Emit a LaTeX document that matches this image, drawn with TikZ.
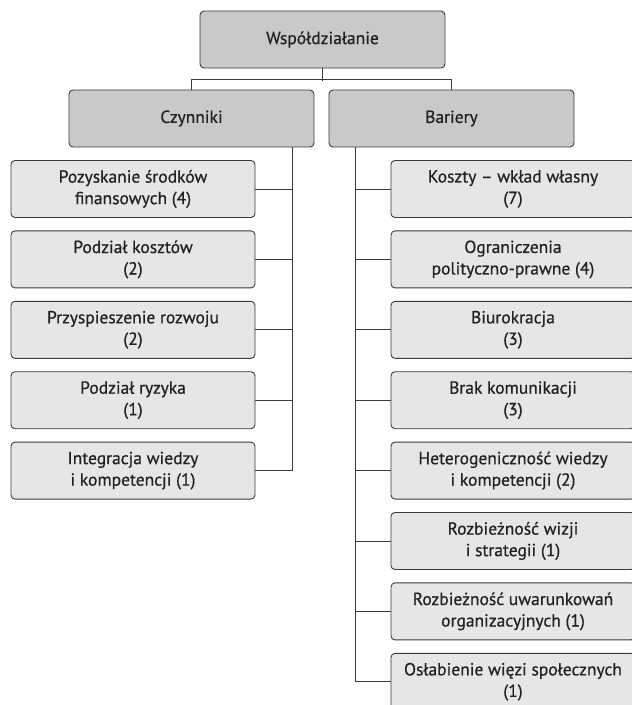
\documentclass[tikz,border=0pt]{standalone}
\usepackage{fontspec}
\setmainfont{PT Sans}[FakeBold=0.6]
\definecolor{headfill}{HTML}{C9C9CB}
\definecolor{itemfill}{HTML}{E6E6E8}
\definecolor{edge}{HTML}{3A3A3A}
\definecolor{txt}{HTML}{222222}
\begin{document}
\begin{tikzpicture}[x=1pt,y=-1pt,
  box/.style={draw=edge, line width=0.9pt, rounded corners=4pt, minimum width=245pt,
    minimum height=57pt, align=center, font=\fontsize{17.5}{21.5}\selectfont,
    text=txt, inner sep=0pt},
  head/.style={box, fill=headfill},
  item/.style={box, fill=itemfill, minimum width=244pt},
  conn/.style={draw=edge, line width=0.9pt}]
\useasboundingbox (0,0) rectangle (632,705);
\clip (0,0) rectangle (632,705);
\node[head] (top) at (322.5,39.5) {Współdziałanie};
\node[head] (cz) at (191.5,118.5) {Czynniki};
\node[head] (ba) at (451.5,118.5) {Bariery};
\draw[conn] (top.south) -- ++(0,12.5);
\draw[conn] (cz.north) -- ++(0,-10) -| (ba.north);
% left items
\node[item] (l1) at (133,189) {Pozyskanie środków\\finansowych (4)};
\node[item] (l2) at (133,259.4) {Podział kosztów\\(2)};
\node[item] (l3) at (133,329.8) {Przyspieszenie rozwoju\\(2)};
\node[item] (l4) at (133,400.2) {Podział ryzyka\\(1)};
\node[item] (l5) at (133,470.6) {Integracja wiedzy\\i kompetencji (1)};
% right items
\node[item] (r1) at (513,189) {Koszty – wkład własny\\(7)};
\node[item] (r2) at (513,259.4) {Ograniczenia\\polityczno-prawne (4)};
\node[item] (r3) at (513,329.8) {Biurokracja\\(3)};
\node[item] (r4) at (513,400.2) {Brak komunikacji\\(3)};
\node[item] (r5) at (513,470.6) {Heterogeniczność wiedzy\\i kompetencji (2)};
\node[item] (r6) at (513,541) {Rozbieżność wizji\\i strategii (1)};
\node[item] (r7) at (513,611.4) {Rozbieżność uwarunkowań\\organizacyjnych (1)};
\node[item] (r8) at (513,681.8) {Osłabienie więzi społecznych\\(1)};
% trunks
\coordinate (lt) at (292,147);
\coordinate (rt) at (355,147);
\draw[conn] (lt) -- (lt |- l5.east);
\draw[conn] (rt) -- (rt |- r8.west);
\foreach \i in {1,...,5} \draw[conn] (l\i.east) -- (l\i.east -| lt);
\foreach \i in {1,...,8} \draw[conn] (r\i.west) -- (r\i.west -| rt);
\end{tikzpicture}
\end{document}
